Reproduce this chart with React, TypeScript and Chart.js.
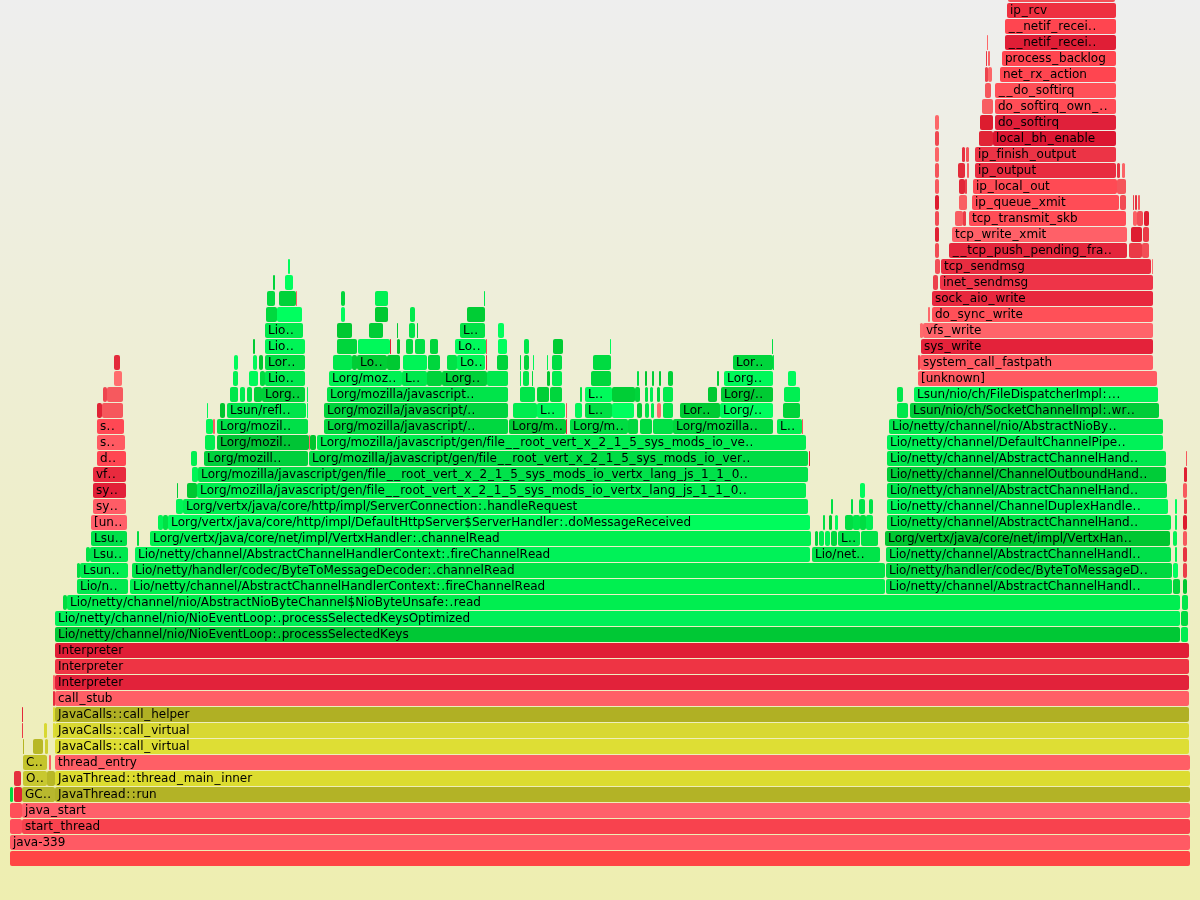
import React, { useEffect, useRef } from 'react';
import { Chart, registerables } from 'chart.js';

Chart.register(...registerables);

// Each frame: [stack depth, first sample, sample count, label shown, kind]
// kind: 'j' = Java frame, 'k' = kernel / native frame, 'c' = C++ (JVM) frame
type Frame = [number, number, number, string, string];

const TOTAL_SAMPLES = 1180;
const VISIBLE_DEPTH = 53.65625;

const baseFrames: Frame[] = [
  [0, 0, 1180, '', 'k'],
  [1, 0, 1180, 'java-339', 'k'],
  [2, 0, 12, '', 'k'],
  [2, 12, 1168, 'start_thread', 'k'],
  [3, 0, 12, '', 'k'],
  [3, 12, 1168, 'java_start', 'k'],
  [4, 0, 3, '', 'j'],
  [4, 4, 8, '', 'k'],
  [4, 12, 33, 'GC..', 'c'],
  [4, 45, 1135, 'JavaThread::run', 'c'],
  [5, 4, 7, '', 'k'],
  [5, 13, 24, 'O..', 'c'],
  [5, 37, 8, '', 'c'],
  [5, 45, 1135, 'JavaThread::thread_main_inner', 'c'],
  [6, 13, 24, 'C..', 'c'],
  [6, 39, 2, '', 'k'],
  [6, 45, 1135, 'thread_entry', 'k'],
  [7, 13, 1, '', 'c'],
  [7, 23, 10, '', 'c'],
  [7, 35, 3, '', 'c'],
  [7, 45, 1134, 'JavaCalls::call_virtual', 'c'],
  [8, 12, 1, '', 'k'],
  [8, 34, 3, '', 'c'],
  [8, 43, 2, '', 'c'],
  [8, 45, 1134, 'JavaCalls::call_virtual', 'c'],
  [9, 12, 1, '', 'k'],
  [9, 43, 2, '', 'c'],
  [9, 45, 1134, 'JavaCalls::call_helper', 'c'],
  [10, 43, 2, '', 'k'],
  [10, 45, 1134, 'call_stub', 'k'],
  [11, 43, 2, '', 'k'],
  [11, 45, 1134, 'Interpreter', 'k'],
  [12, 45, 1134, 'Interpreter', 'k'],
  [13, 45, 1134, 'Interpreter', 'k'],
  [14, 45, 1125, 'Lio/netty/channel/nio/NioEventLoop:.processSelectedKeys', 'j'],
  [14, 1171, 7, '', 'j'],
  [15, 45, 1125, 'Lio/netty/channel/nio/NioEventLoop:.processSelectedKeysOptimized', 'j'],
  [15, 1171, 7, '', 'j'],
  [16, 53, 4, '', 'j'],
  [16, 57, 1113, 'Lio/netty/channel/nio/AbstractNioByteChannel$NioByteUnsafe:.read', 'j'],
  [16, 1172, 6, '', 'j'],
];

const leftFrames: Frame[] = [
  [17, 67, 51, 'Lio/n..', 'j'],
  [18, 67, 3, '', 'j'],
  [18, 70, 48, 'Lsun..', 'j'],
  [19, 76, 4, '', 'j'],
  [19, 80, 38, 'Lsu..', 'j'],
  [20, 81, 36, 'Lsu..', 'j'],
  [21, 81, 36, '[un..', 'k'],
  [22, 83, 33, 'sy..', 'k'],
  [23, 83, 33, 'sy..', 'k'],
  [24, 83, 33, 'vf..', 'k'],
  [25, 87, 29, 'd..', 'k'],
  [26, 87, 28, 's..', 'k'],
  [27, 87, 27, 's..', 'k'],
  [28, 87, 5, '', 'k'],
  [28, 92, 21, '', 'k'],
  [29, 93, 4, '', 'k'],
  [29, 97, 16, '', 'k'],
  [30, 104, 8, '', 'k'],
  [31, 104, 6, '', 'k'],
];

const readFrames: Frame[] = [
  [17, 120, 755, 'Lio/netty/channel/AbstractChannelHandlerContext:.fireChannelRead', 'j'],
  [18, 122, 753, 'Lio/netty/handler/codec/ByteToMessageDecoder:.channelRead', 'j'],
  [19, 125, 675, 'Lio/netty/channel/AbstractChannelHandlerContext:.fireChannelRead', 'j'],
  [19, 802, 68, 'Lio/net..', 'j'],
  [20, 127, 2, '', 'j'],
  [20, 140, 661, 'Lorg/vertx/java/core/net/impl/VertxHandler:.channelRead', 'j'],
  [20, 805, 3, '', 'j'],
  [20, 809, 5, '', 'j'],
  [20, 815, 5, '', 'j'],
  [20, 821, 6, '', 'j'],
  [20, 828, 22, 'L..', 'j'],
  [20, 851, 17, '', 'j'],
  [21, 148, 5, '', 'j'],
  [21, 153, 5, '', 'j'],
  [21, 158, 642, 'Lorg/vertx/java/core/http/impl/DefaultHttpServer$ServerHandler:.doMessageReceived', 'j'],
  [21, 813, 2, '', 'j'],
  [21, 819, 3, '', 'j'],
  [21, 825, 3, '', 'j'],
  [21, 835, 8, '', 'j'],
  [21, 843, 7, '', 'j'],
  [21, 850, 6, '', 'j'],
  [21, 856, 7, '', 'j'],
  [22, 166, 7, '', 'j'],
  [22, 173, 625, 'Lorg/vertx/java/core/http/impl/ServerConnection:.handleRequest', 'j'],
  [22, 821, 2, '', 'j'],
  [22, 841, 2, '', 'j'],
  [22, 849, 6, '', 'j'],
  [22, 859, 4, '', 'j'],
  [23, 167, 1, '', 'j'],
  [23, 177, 10, '', 'j'],
  [23, 187, 609, 'Lorg/mozilla/javascript/gen/file__root_vert_x_2_1_5_sys_mods_io_vertx_lang_js_1_1_0..', 'j'],
  [23, 850, 5, '', 'j'],
  [24, 182, 6, '', 'j'],
  [24, 188, 610, 'Lorg/mozilla/javascript/gen/file__root_vert_x_2_1_5_sys_mods_io_vertx_lang_js_1_1_0..', 'j'],
  [25, 181, 6, '', 'j'],
  [25, 194, 104, 'Lorg/mozill..', 'j'],
  [25, 299, 499, 'Lorg/mozilla/javascript/gen/file__root_vert_x_2_1_5_sys_mods_io_ver..', 'j'],
  [25, 799, 1, '', 'k'],
  [26, 195, 10, '', 'j'],
  [26, 207, 92, 'Lorg/mozil..', 'j'],
  [26, 299, 1, '', 'k'],
  [26, 300, 6, '', 'j'],
  [26, 307, 489, 'Lorg/mozilla/javascript/gen/file__root_vert_x_2_1_5_sys_mods_io_ve..', 'j'],
  [27, 196, 7, '', 'j'],
  [27, 203, 2, '', 'k'],
  [27, 207, 91, 'Lorg/mozil..', 'j'],
  [27, 314, 184, 'Lorg/mozilla/javascript/..', 'j'],
  [27, 499, 57, 'Lorg/m..', 'j'],
  [27, 556, 1, '', 'k'],
  [27, 560, 58, 'Lorg/m..', 'j'],
  [27, 618, 10, '', 'j'],
  [27, 630, 12, '', 'j'],
  [27, 643, 20, '', 'j'],
  [27, 663, 100, 'Lorg/mozilla..', 'j'],
  [27, 767, 25, 'L..', 'j'],
  [27, 792, 1, '', 'k'],
  [28, 197, 1, '', 'j'],
  [28, 210, 5, '', 'j'],
  [28, 217, 79, 'Lsun/refl..', 'j'],
  [28, 297, 1, '', 'j'],
  [28, 314, 184, 'Lorg/mozilla/javascript/..', 'j'],
  [28, 503, 24, '', 'j'],
  [28, 527, 28, 'L..', 'j'],
  [28, 556, 1, '', 'k'],
  [28, 565, 7, '', 'j'],
  [28, 575, 27, 'L..', 'j'],
  [28, 602, 22, '', 'j'],
  [28, 627, 5, '', 'j'],
  [28, 635, 4, '', 'j'],
  [28, 641, 3, '', 'j'],
  [28, 647, 4, '', 'k'],
  [28, 653, 10, '', 'j'],
  [28, 670, 40, 'Lor..', 'j'],
  [28, 710, 53, 'Lorg/..', 'j'],
  [28, 773, 17, '', 'j'],
  [29, 220, 8, '', 'j'],
  [29, 230, 5, '', 'j'],
  [29, 237, 5, '', 'j'],
  [29, 244, 8, '', 'j'],
  [29, 252, 43, 'Lorg..', 'j'],
  [29, 297, 1, '', 'j'],
  [29, 317, 181, 'Lorg/mozilla/javascript..', 'j'],
  [29, 510, 15, '', 'j'],
  [29, 527, 12, '', 'j'],
  [29, 540, 12, '', 'j'],
  [29, 570, 2, '', 'j'],
  [29, 575, 27, 'L..', 'j'],
  [29, 602, 23, '', 'j'],
  [29, 625, 5, '', 'j'],
  [29, 635, 3, '', 'j'],
  [29, 640, 3, '', 'j'],
  [29, 647, 3, '', 'j'],
  [29, 653, 10, '', 'j'],
  [29, 698, 9, '', 'j'],
  [29, 711, 52, 'Lorg/..', 'j'],
  [29, 774, 16, '', 'j'],
  [30, 223, 5, '', 'j'],
  [30, 239, 9, '', 'j'],
  [30, 250, 5, '', 'j'],
  [30, 255, 40, 'Lio..', 'j'],
  [30, 319, 73, 'Lorg/moz..', 'j'],
  [30, 392, 25, 'L..', 'j'],
  [30, 417, 15, '', 'j'],
  [30, 432, 45, 'Lorg..', 'j'],
  [30, 477, 21, '', 'j'],
  [30, 510, 1, '', 'j'],
  [30, 513, 6, '', 'j'],
  [30, 522, 1, '', 'j'],
  [30, 537, 3, '', 'j'],
  [30, 542, 10, '', 'j'],
  [30, 581, 20, '', 'j'],
  [30, 627, 2, '', 'j'],
  [30, 635, 2, '', 'j'],
  [30, 642, 2, '', 'j'],
  [30, 649, 2, '', 'j'],
  [30, 658, 5, '', 'j'],
  [30, 707, 2, '', 'j'],
  [30, 714, 49, 'Lorg..', 'j'],
  [30, 778, 8, '', 'j'],
  [31, 224, 4, '', 'j'],
  [31, 243, 4, '', 'j'],
  [31, 249, 4, '', 'j'],
  [31, 255, 40, 'Lor..', 'j'],
  [31, 323, 19, '', 'j'],
  [31, 342, 5, '', 'j'],
  [31, 347, 30, 'Lo..', 'j'],
  [31, 377, 13, '', 'j'],
  [31, 393, 24, '', 'j'],
  [31, 418, 12, '', 'j'],
  [31, 437, 10, '', 'j'],
  [31, 447, 28, 'Lo..', 'j'],
  [31, 476, 1, '', 'k'],
  [31, 487, 11, '', 'j'],
  [31, 510, 1, '', 'j'],
  [31, 514, 5, '', 'j'],
  [31, 523, 1, '', 'j'],
  [31, 537, 1, '', 'j'],
  [31, 542, 10, '', 'j'],
  [31, 583, 18, '', 'j'],
  [31, 723, 40, 'Lor..', 'j'],
  [31, 763, 1, '', 'j'],
  [32, 243, 2, '', 'j'],
  [32, 255, 40, 'Lio..', 'j'],
  [32, 327, 20, '', 'j'],
  [32, 348, 32, '', 'j'],
  [32, 380, 1, '', 'k'],
  [32, 387, 3, '', 'j'],
  [32, 396, 7, '', 'j'],
  [32, 405, 10, '', 'j'],
  [32, 420, 8, '', 'j'],
  [32, 445, 31, 'Lo..', 'j'],
  [32, 476, 1, '', 'k'],
  [32, 488, 9, '', 'j'],
  [32, 514, 5, '', 'j'],
  [32, 543, 10, '', 'j'],
  [32, 600, 1, '', 'j'],
  [32, 762, 1, '', 'j'],
  [33, 255, 38, 'Lio..', 'j'],
  [33, 327, 15, '', 'j'],
  [33, 359, 14, '', 'j'],
  [33, 387, 1, '', 'j'],
  [33, 399, 6, '', 'j'],
  [33, 407, 1, '', 'j'],
  [33, 450, 25, 'L..', 'j'],
  [33, 488, 6, '', 'j'],
  [34, 256, 11, '', 'j'],
  [34, 267, 25, '', 'j'],
  [34, 331, 4, '', 'j'],
  [34, 365, 13, '', 'j'],
  [34, 400, 5, '', 'j'],
  [34, 457, 18, '', 'j'],
  [35, 257, 8, '', 'j'],
  [35, 269, 17, '', 'j'],
  [35, 286, 1, '', 'k'],
  [35, 331, 4, '', 'j'],
  [35, 365, 13, '', 'j'],
  [35, 474, 1, '', 'j'],
  [36, 263, 2, '', 'j'],
  [36, 275, 8, '', 'j'],
  [37, 278, 2, '', 'j'],
];

const writeFrames: Frame[] = [
  [17, 876, 286, 'Lio/netty/channel/AbstractChannelHandl..', 'j'],
  [17, 1163, 7, '', 'j'],
  [17, 1173, 4, '', 'j'],
  [18, 876, 286, 'Lio/netty/handler/codec/ByteToMessageD..', 'j'],
  [18, 1163, 5, '', 'j'],
  [18, 1173, 4, '', 'k'],
  [19, 876, 285, 'Lio/netty/channel/AbstractChannelHandl..', 'j'],
  [19, 1165, 2, '', 'j'],
  [19, 1173, 4, '', 'k'],
  [20, 875, 285, 'Lorg/vertx/java/core/net/impl/VertxHan..', 'j'],
  [20, 1163, 4, '', 'j'],
  [20, 1173, 4, '', 'k'],
  [21, 877, 284, 'Lio/netty/channel/AbstractChannelHand..', 'j'],
  [21, 1165, 2, '', 'j'],
  [21, 1173, 4, '', 'k'],
  [22, 877, 281, 'Lio/netty/channel/ChannelDuplexHandle..', 'j'],
  [22, 1165, 2, '', 'j'],
  [22, 1174, 3, '', 'k'],
  [23, 877, 280, 'Lio/netty/channel/AbstractChannelHand..', 'j'],
  [23, 1173, 4, '', 'k'],
  [24, 877, 279, 'Lio/netty/channel/ChannelOutboundHand..', 'j'],
  [24, 1174, 3, '', 'k'],
  [25, 877, 279, 'Lio/netty/channel/AbstractChannelHand..', 'j'],
  [25, 1176, 1, '', 'k'],
  [26, 877, 276, 'Lio/netty/channel/DefaultChannelPipe..', 'j'],
  [27, 879, 274, 'Lio/netty/channel/nio/AbstractNioBy..', 'j'],
  [28, 887, 11, '', 'j'],
  [28, 900, 249, 'Lsun/nio/ch/SocketChannelImpl:.wr..', 'j'],
  [29, 887, 6, '', 'j'],
  [29, 904, 244, 'Lsun/nio/ch/FileDispatcherImpl:...', 'j'],
];

const kernelFrames: Frame[] = [
  [30, 908, 239, '[unknown]', 'k'],
  [31, 908, 2, '', 'k'],
  [31, 910, 233, 'system_call_fastpath', 'k'],
  [32, 911, 232, 'sys_write', 'k'],
  [33, 910, 3, '', 'k'],
  [33, 913, 230, 'vfs_write', 'k'],
  [34, 918, 2, '', 'k'],
  [34, 922, 221, 'do_sync_write', 'k'],
  [35, 922, 221, 'sock_aio_write', 'k'],
  [36, 923, 5, '', 'k'],
  [36, 930, 213, 'inet_sendmsg', 'k'],
  [37, 925, 5, '', 'k'],
  [37, 931, 210, 'tcp_sendmsg', 'k'],
  [37, 1142, 1, '', 'k'],
  [38, 925, 4, '', 'k'],
  [38, 939, 178, '__tcp_push_pending_fra..', 'k'],
  [38, 1119, 13, '', 'k'],
  [38, 1132, 7, '', 'k'],
  [39, 925, 4, '', 'k'],
  [39, 942, 175, 'tcp_write_xmit', 'k'],
  [39, 1121, 11, '', 'k'],
  [39, 1133, 6, '', 'k'],
  [40, 925, 4, '', 'k'],
  [40, 945, 8, '', 'k'],
  [40, 953, 3, '', 'k'],
  [40, 959, 157, 'tcp_transmit_skb', 'k'],
  [40, 1123, 4, '', 'k'],
  [40, 1127, 6, '', 'k'],
  [40, 1134, 5, '', 'k'],
  [41, 925, 4, '', 'k'],
  [41, 949, 8, '', 'k'],
  [41, 962, 147, 'ip_queue_xmit', 'k'],
  [41, 1110, 6, '', 'k'],
  [41, 1123, 1, '', 'k'],
  [41, 1125, 2, '', 'k'],
  [41, 1128, 2, '', 'k'],
  [42, 925, 4, '', 'k'],
  [42, 949, 6, '', 'k'],
  [42, 955, 2, '', 'k'],
  [42, 963, 144, 'ip_local_out', 'k'],
  [42, 1107, 9, '', 'k'],
  [43, 925, 4, '', 'k'],
  [43, 948, 7, '', 'k'],
  [43, 957, 2, '', 'k'],
  [43, 965, 141, 'ip_output', 'k'],
  [43, 1107, 3, '', 'k'],
  [43, 1112, 3, '', 'k'],
  [44, 925, 4, '', 'k'],
  [44, 952, 3, '', 'k'],
  [44, 956, 3, '', 'k'],
  [44, 965, 141, 'ip_finish_output', 'k'],
  [45, 925, 4, '', 'k'],
  [45, 969, 14, '', 'k'],
  [45, 983, 123, 'local_bh_enable', 'k'],
  [46, 925, 4, '', 'k'],
  [46, 970, 13, '', 'k'],
  [46, 985, 121, 'do_softirq', 'k'],
  [47, 972, 11, '', 'k'],
  [47, 985, 121, 'do_softirq_own_..', 'k'],
  [48, 975, 6, '', 'k'],
  [48, 985, 121, '__do_softirq', 'k'],
  [49, 975, 3, '', 'k'],
  [49, 978, 4, '', 'k'],
  [49, 990, 116, 'net_rx_action', 'k'],
  [50, 976, 1, '', 'k'],
  [50, 978, 2, '', 'k'],
  [50, 992, 114, 'process_backlog', 'k'],
  [51, 977, 1, '', 'k'],
  [51, 995, 111, '__netif_recei..', 'k'],
  [52, 995, 111, '__netif_recei..', 'k'],
  [53, 997, 109, 'ip_rcv', 'k'],
  [54, 998, 107, '', 'k'],
];

// Style: colours picked for the large frames, keyed by depth@first sample
const FRAME_COLOURS: Record<string, string> = {
  '0@0': '#ff4545', '1@0': '#ff5a64', '2@0': '#ff4d5a', '2@12': '#f8424e',
  '3@0': '#ff4e58', '3@12': '#ff606a', '4@12': '#b8b82e', '4@45': '#b3b326',
  '5@13': '#c8c830', '5@45': '#dcdc30', '6@13': '#c4c42c', '6@45': '#ff5f66',
  '7@45': '#dede34', '8@45': '#d8d832', '9@45': '#b0b024', '10@45': '#ff5f66',
  '11@45': '#e2223a', '12@45': '#ee3444', '13@45': '#e01e36',
  '14@45': '#00c835', '15@45': '#00f058', '16@57': '#00ee50',
  '17@120': '#00f050', '17@876': '#00e64c', '17@67': '#00e84e',
  '18@122': '#00e448', '18@876': '#00d840', '18@70': '#00ee50',
  '19@125': '#00f258', '19@876': '#00e04a', '19@80': '#00e84e',
  '20@140': '#00f050', '20@875': '#00c630', '20@81': '#00e04a',
  '21@158': '#00fc5c', '21@877': '#00e44a', '21@81': '#ff5f6a',
  '22@173': '#00ee52', '22@877': '#00f45a', '22@83': '#ff5c66',
  '23@187': '#00ee50', '23@877': '#00e24a', '23@83': '#e22038',
  '24@188': '#00e24a', '24@877': '#00cc38', '24@83': '#e82a3e',
  '25@299': '#00dc44', '25@877': '#00e84e', '25@194': '#00d03c', '25@87': '#ff4652',
  '26@307': '#00ec50', '26@877': '#00f258', '26@207': '#00c435', '26@87': '#ff5a62',
  '27@314': '#00d840', '27@879': '#00e64c', '27@207': '#00e048', '27@87': '#ff4854',
  '28@314': '#00d43e', '28@900': '#00cc38', '28@217': '#00e44a',
  '29@317': '#00e44a', '29@904': '#00f458',
  '30@908': '#ff5a62', '31@910': '#ff5a62', '32@911': '#e4223a', '33@913': '#ff646a',
  '34@922': '#ff5058', '35@922': '#e8283e', '36@930': '#ee3448', '37@931': '#e82c40',
  '38@939': '#e4263c', '39@942': '#ff6068', '40@959': '#ff4c56', '41@962': '#ff4c56',
  '42@963': '#ff4a54', '43@965': '#e82c40', '44@965': '#ec3446', '45@983': '#dc1632',
  '46@985': '#e0203a', '47@985': '#ff4c56', '48@985': '#ff5058', '49@990': '#ff4550',
  '50@992': '#ff4550', '51@995': '#e01e36', '52@995': '#ff4550', '53@997': '#ee3040',
};

// Font metrics: advance widths (em) of the reference's wider punctuation glyphs
const WIDE_GLYPHS: Record<string, number> = { '_': 0.636, ':': 0.454, '.': 0.364 };
const FONT_SIZE = 12;

function shade(depth: number, start: number): number {
  const s = Math.sin(depth * 12.9898 + start * 78.233) * 43758.5453;
  return s - Math.floor(s);
}

function frameColour(f: Frame): string {
  const key = `${f[0]}@${f[1]}`;
  if (FRAME_COLOURS[key]) return FRAME_COLOURS[key];
  const v = shade(f[0], f[1]);
  if (f[4] === 'j') {
    return `rgb(0,${Math.round(195 + 60 * v)},${Math.round(45 + 50 * v)})`;
  }
  if (f[4] === 'c') {
    const x = Math.round(175 + 50 * v);
    return `rgb(${x},${x},${Math.round(35 + 20 * v)})`;
  }
  return `rgb(${Math.round(220 + 35 * v)},${Math.round(25 + 85 * v)},${Math.round(45 + 65 * v)})`;
}

export default function App() {
  const canvasRef = useRef<HTMLCanvasElement | null>(null);

  useEffect(() => {
    document.body.style.margin = '0';
    const canvas = canvasRef.current;
    if (!canvas) return;

    const frames: Frame[] = [
      ...baseFrames,
      ...leftFrames,
      ...readFrames,
      ...writeFrames,
      ...kernelFrames,
    ];
    const points = frames.map((f) => ({ x: [f[1], f[1] + f[2]], y: f[0] }));
    const colours = frames.map(frameColour);
    const labels = frames.map((f) => f[3]);

    const backgroundPlugin = {
      id: 'flameBackground',
      beforeDraw(chart: any) {
        const { ctx, width, height } = chart;
        const g = ctx.createLinearGradient(0, 0, 0, height);
        g.addColorStop(0, '#eeeeee');
        g.addColorStop(1, '#eeeeb0');
        ctx.save();
        ctx.fillStyle = g;
        ctx.fillRect(0, 0, width, height);
        ctx.restore();
      },
    };

    const labelPlugin = {
      id: 'frameLabels',
      afterDatasetsDraw(chart: any) {
        const { ctx } = chart;
        const meta = chart.getDatasetMeta(0);
        ctx.save();
        ctx.font = `${FONT_SIZE}px "DejaVu Sans", Verdana, sans-serif`;
        ctx.fillStyle = '#000000';
        ctx.textBaseline = 'alphabetic';
        ctx.textAlign = 'left';
        const widthCache: Record<string, number> = {};
        meta.data.forEach((el: any, i: number) => {
          const text = labels[i];
          if (!text) return;
          let x = Math.min(el.base, el.x) + 3;
          const y = el.y + 3.5;
          for (const ch of text) {
            let adv = WIDE_GLYPHS[ch] !== undefined ? WIDE_GLYPHS[ch] * FONT_SIZE : widthCache[ch];
            if (adv === undefined) {
              adv = ctx.measureText(ch).width;
              widthCache[ch] = adv;
            }
            const glyphW = widthCache[ch] !== undefined ? widthCache[ch] : ctx.measureText(ch).width;
            widthCache[ch] = glyphW;
            ctx.fillText(ch, x + (adv - glyphW) / 2, y);
            x += adv;
          }
        });
        ctx.restore();
      },
    };

    const chart = new Chart(canvas, {
      type: 'bar',
      data: {
        datasets: [
          {
            data: points as any,
            backgroundColor: colours,
            borderWidth: 0,
            borderRadius: 2,
            borderSkipped: false,
            barThickness: 15,
            inflateAmount: 0,
          } as any,
        ],
      },
      options: {
        indexAxis: 'y',
        animation: false,
        responsive: false,
        devicePixelRatio: 1,
        events: [],
        layout: { padding: { left: 10, right: 10, top: 0, bottom: 33.5 } },
        scales: {
          x: { type: 'linear', min: 0, max: TOTAL_SAMPLES, display: false },
          y: { type: 'linear', min: -0.5, max: VISIBLE_DEPTH, display: false, offset: false },
        },
        plugins: {
          legend: { display: false },
          tooltip: { enabled: false },
        },
      } as any,
      plugins: [backgroundPlugin, labelPlugin],
    });

    return () => {
      chart.destroy();
    };
  }, []);

  return (
    <canvas
      ref={canvasRef}
      width={1200}
      height={900}
      style={{ display: 'block', width: '1200px', height: '900px' }}
    />
  );
}
